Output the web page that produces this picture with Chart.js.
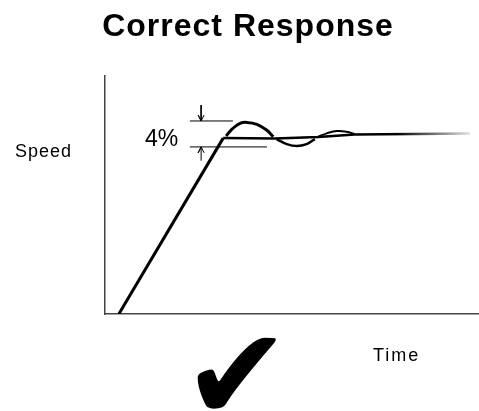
<!DOCTYPE html>
<html>
<head>
<meta charset="utf-8">
<script src="https://cdn.jsdelivr.net/npm/chart.js@4.4.1/dist/chart.umd.min.js"></script>
<style>
  body { margin: 0; background: #fff; }
  canvas { display: block; }
</style>
</head>
<body>
<canvas id="responseChart" width="479" height="411"></canvas>
<script>
// time / speed in arbitrary units (0-100 on both axes)
const rampTime = [3.7, 31.6];
const rampSpeed = [0, 73.9];

const chordTime = [31.6, 45.5, 57.0, 66.8, 97.6];
const chordSpeed = [73.9, 73.7, 74.4, 75.4, 75.8];

const overshootTime = [32.4, 33.9, 36.1, 37.9, 40.6, 43.2, 45.0];
const overshootSpeed = [74.8, 77.6, 80.1, 80.5, 79.7, 77.3, 74.5];

const undershootTime = [45.9, 48.6, 51.3, 53.9, 56.1];
const undershootSpeed = [73.4, 71.4, 70.6, 71.4, 73.5];

const secondBumpTime = [57.0, 59.3, 62.0, 64.6, 66.8];
const secondBumpSpeed = [74.5, 75.9, 76.9, 76.6, 75.6];

// 4% band markers
const bandTopTime = [22.7, 34.2];
const bandTopSpeed = 81.1;
const bandBottomTime = [22.7, 43.3];
const bandBottomSpeed = 70.2;
const arrowTime = 25.7;
const downArrowSpeed = [87.8, 81.1];
const upArrowSpeed = [64.4, 70.2];

function pts(xs, ys) {
    return xs.map((x, i) => ({ x: x, y: Array.isArray(ys) ? ys[i] : ys }));
}

function arrow(x, from, to) {
    const dir = to > from ? -1 : 1;
    return [
        { x: x, y: from },
        { x: x, y: to },
        { x: x - 0.8, y: to + dir * 2.5 },
        { x: x, y: to },
        { x: x + 0.8, y: to + dir * 2.5 }
    ];
}

function line(data, width, extra) {
    return Object.assign({
        data: data,
        showLine: true,
        borderColor: '#000',
        borderWidth: width,
        pointRadius: 0,
        tension: 0,
        fill: false
    }, extra || {});
}

const labelsPlugin = {
    id: 'labels',
    afterDraw(chart) {
        const c = chart.ctx;
        c.save();
        c.fillStyle = '#000';
        c.textBaseline = 'alphabetic';

        c.font = 'bold 32px "Liberation Sans", Arial, sans-serif';
        c.letterSpacing = '1px';
        c.textAlign = 'center';
        c.fillText('Correct Response', 248, 36);

        c.textAlign = 'left';
        c.font = '18px "Liberation Sans", Arial, sans-serif';
        c.letterSpacing = '1px';
        c.fillText('Speed', 15, 157);
        c.letterSpacing = '2px';
        c.fillText('Time', 373, 361);

        c.letterSpacing = '0px';
        c.font = '23px "Liberation Sans", Arial, sans-serif';
        c.fillText('4%', 145, 146);

        // check mark fitted into its box
        c.font = '100px "DejaVu Sans"';
        const m = c.measureText('\u2714');
        const w = m.actualBoundingBoxLeft + m.actualBoundingBoxRight;
        const h = m.actualBoundingBoxAscent + m.actualBoundingBoxDescent;
        c.translate(197, 337);
        c.scale(80 / w, 73 / h);
        c.fillText('\u2714', m.actualBoundingBoxLeft, m.actualBoundingBoxAscent);
        c.restore();
    }
};

const axisOpts = {
    min: 0, max: 100,
    grid: { display: false, drawTicks: false, tickLength: 0 },
    ticks: { display: false },
    border: { display: true, color: '#444', width: 1.5 }
};

new Chart(document.getElementById('responseChart'), {
    type: 'scatter',
    data: {
        datasets: [
            line(pts(rampTime, rampSpeed), 3),
            line(pts(chordTime, chordSpeed), 2.5, {
                borderColor: (ctx) => {
                    const ch = ctx.chart;
                    if (!ch.chartArea) return '#000';
                    const xs = ch.scales.x;
                    const g = ch.ctx.createLinearGradient(xs.getPixelForValue(78), 0, xs.getPixelForValue(98), 0);
                    g.addColorStop(0, '#000');
                    g.addColorStop(1, 'rgba(0,0,0,0.1)');
                    return g;
                }
            }),
            line(pts(overshootTime, overshootSpeed), 3, { tension: 0.4 }),
            line(pts(undershootTime, undershootSpeed), 2.5, { tension: 0.4 }),
            line(pts(secondBumpTime, secondBumpSpeed), 2, { tension: 0.4 }),
            line(pts(bandTopTime, bandTopSpeed), 1),
            line(pts(bandBottomTime, bandBottomSpeed), 1),
            line(arrow(arrowTime, downArrowSpeed[0], downArrowSpeed[1]), 1),
            line(arrow(arrowTime, upArrowSpeed[0], upArrowSpeed[1]), 1)
        ]
    },
    options: {
        responsive: false,
        animation: false,
        layout: { padding: { left: 105, top: 76, right: 0, bottom: 97 } },
        plugins: {
            legend: { display: false },
            tooltip: { enabled: false }
        },
        scales: {
            x: axisOpts,
            y: axisOpts
        }
    },
    plugins: [labelsPlugin]
});
</script>
</body>
</html>
